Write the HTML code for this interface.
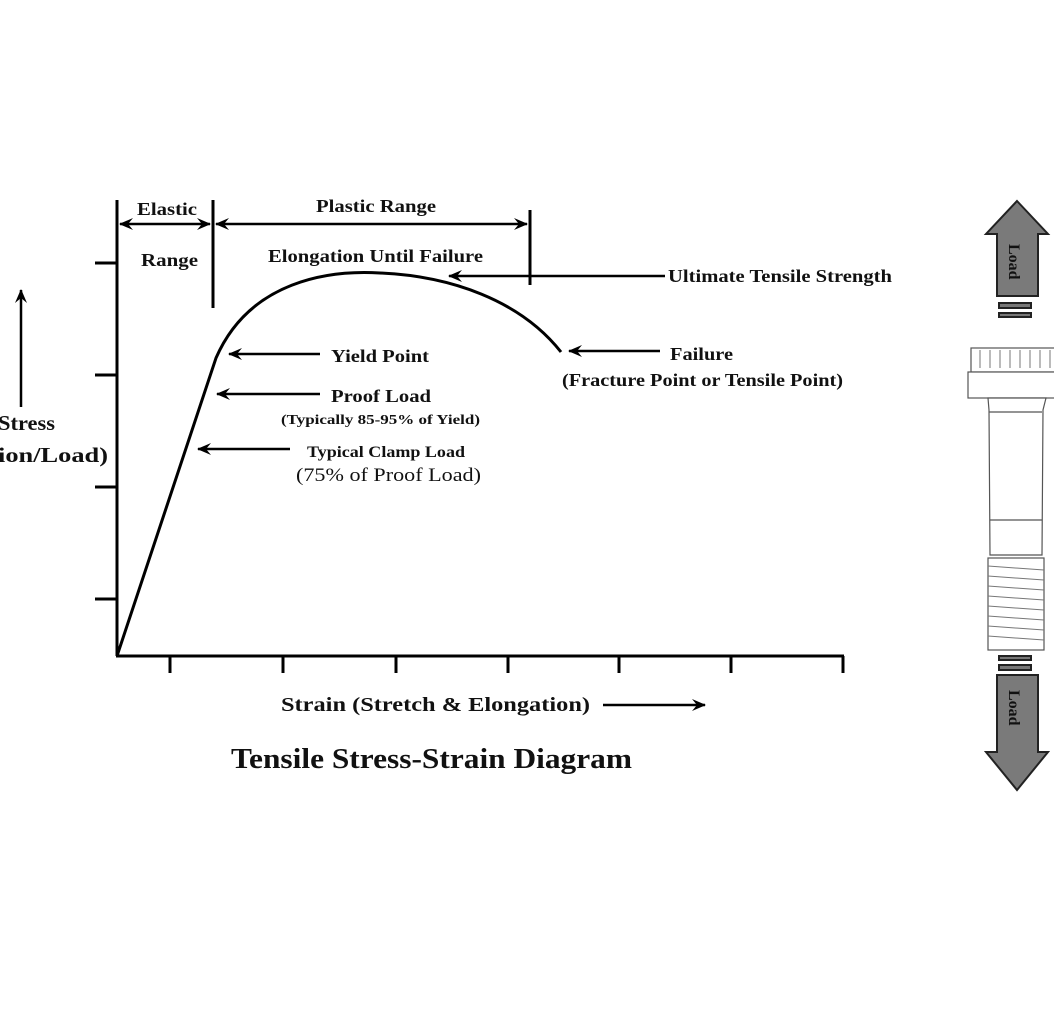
<!DOCTYPE html>
<html><head><style>
body{margin:0;background:#fff;}
svg{display:block;font-family:"Liberation Serif",serif;font-weight:bold;}
</style></head><body>
<svg width="1054" height="1017" viewBox="0 0 1054 1017" xmlns="http://www.w3.org/2000/svg">
<defs>
<marker id="ah" markerWidth="14" markerHeight="12" refX="1" refY="6" orient="auto" markerUnits="userSpaceOnUse">
<path d="M14,0 L0,6 L14,12 L9,6 Z" fill="#000"/></marker>
<marker id="ae" markerWidth="14" markerHeight="12" refX="13" refY="6" orient="auto" markerUnits="userSpaceOnUse">
<path d="M0,0 L14,6 L0,12 L5,6 Z" fill="#000"/></marker>
</defs>
<g stroke="#000" stroke-width="3" fill="none">
<line x1="117" y1="200" x2="117" y2="656"/>
<line x1="116" y1="656" x2="844" y2="656"/>
<line x1="95" y1="263" x2="117" y2="263"/>
<line x1="95" y1="375" x2="117" y2="375"/>
<line x1="95" y1="487" x2="117" y2="487"/>
<line x1="95" y1="599" x2="117" y2="599"/>
<line x1="170" y1="656" x2="170" y2="673"/>
<line x1="283" y1="656" x2="283" y2="673"/>
<line x1="396" y1="656" x2="396" y2="673"/>
<line x1="508" y1="656" x2="508" y2="673"/>
<line x1="619" y1="656" x2="619" y2="673"/>
<line x1="731" y1="656" x2="731" y2="673"/>
<line x1="843" y1="656" x2="843" y2="673"/>
<path d="M117,656 L216,358 C250,280 330,270 380,273 C450,276 520,300 561,352"/>
<line x1="213" y1="200" x2="213" y2="308"/>
<line x1="530" y1="210" x2="530" y2="285"/>
</g>
<g stroke="#000" stroke-width="2.5" fill="none">
<line x1="120" y1="224" x2="210" y2="224" marker-start="url(#ah)" marker-end="url(#ae)"/>
<line x1="216" y1="224" x2="527" y2="224" marker-start="url(#ah)" marker-end="url(#ae)"/>
<line x1="449" y1="276" x2="665" y2="276" marker-start="url(#ah)"/>
<line x1="229" y1="354" x2="320" y2="354" marker-start="url(#ah)"/>
<line x1="217" y1="394" x2="320" y2="394" marker-start="url(#ah)"/>
<line x1="198" y1="449" x2="290" y2="449" marker-start="url(#ah)"/>
<line x1="569" y1="351" x2="660" y2="351" marker-start="url(#ah)"/>
<line x1="21" y1="407" x2="21" y2="290" marker-end="url(#ae)"/>
<line x1="603" y1="705" x2="705" y2="705" marker-end="url(#ae)"/>
</g>
<g fill="#111" font-size="18">
<text x="137" y="215" textLength="60" lengthAdjust="spacingAndGlyphs">Elastic</text>
<text x="141" y="266" textLength="57" lengthAdjust="spacingAndGlyphs">Range</text>
<text x="316" y="212" textLength="120" lengthAdjust="spacingAndGlyphs">Plastic Range</text>
<text x="268" y="262" textLength="215" lengthAdjust="spacingAndGlyphs">Elongation Until Failure</text>
<text x="668" y="282" textLength="224" lengthAdjust="spacingAndGlyphs">Ultimate Tensile Strength</text>
<text x="331" y="362" textLength="98" lengthAdjust="spacingAndGlyphs">Yield Point</text>
<text x="331" y="402" textLength="100" lengthAdjust="spacingAndGlyphs">Proof Load</text>
<text x="281" y="424" font-size="14" textLength="199" lengthAdjust="spacingAndGlyphs">(Typically 85-95% of Yield)</text>
<text x="307" y="457" font-size="16" textLength="158" lengthAdjust="spacingAndGlyphs">Typical Clamp Load</text>
<text x="296" y="481" font-weight="normal" font-size="19" textLength="185" lengthAdjust="spacingAndGlyphs">(75% of Proof Load)</text>
<text x="670" y="360" textLength="63" lengthAdjust="spacingAndGlyphs">Failure</text>
<text x="562" y="386" textLength="281" lengthAdjust="spacingAndGlyphs">(Fracture Point or Tensile Point)</text>
<text x="-2" y="430" font-size="21" textLength="57" lengthAdjust="spacingAndGlyphs">Stress</text>
<text x="-2" y="462" font-size="21" textLength="110" lengthAdjust="spacingAndGlyphs">ion/Load)</text>
<text x="281" y="711" font-size="20" textLength="309" lengthAdjust="spacingAndGlyphs">Strain (Stretch &amp; Elongation)</text>
<text x="231" y="768" font-size="29" textLength="401" lengthAdjust="spacingAndGlyphs">Tensile Stress-Strain Diagram</text>
</g>
<!-- bolt -->
<g stroke="#222" stroke-width="2">
<path d="M1017,201 L1048,234 L1038,234 L1038,296 L997,296 L997,234 L986,234 Z" fill="#7a7a7a"/>
<rect x="999" y="303" width="32" height="5" fill="#777"/>
<rect x="999" y="313" width="32" height="4" fill="#777"/>
<rect x="999" y="656" width="32" height="4" fill="#777"/>
<rect x="999" y="665" width="32" height="5" fill="#777"/>
<path d="M997,675 L1038,675 L1038,752 L1048,752 L1017,790 L986,752 L997,752 Z" fill="#7a7a7a"/>
</g>
<g font-size="16" fill="#111">
<text transform="translate(1009,244) rotate(90)">Load</text>
<text transform="translate(1009,690) rotate(90)">Load</text>
</g>
<g stroke="#555" stroke-width="1.2" fill="#fff">
<rect x="971" y="348" width="85" height="24"/>
<rect x="968" y="372" width="90" height="26"/>
<path d="M988,398 L1046,398 L1043,410 L1042,555 L990,555 L989,410 Z"/>
<line x1="989" y1="412" x2="1042" y2="412"/>
<line x1="990" y1="520" x2="1042" y2="520"/>
<rect x="988" y="558" width="56" height="92"/>
</g>
<g stroke="#777" stroke-width="1">
<line x1="988" y1="566" x2="1044" y2="570"/><line x1="988" y1="576" x2="1044" y2="580"/>
<line x1="988" y1="586" x2="1044" y2="590"/><line x1="988" y1="596" x2="1044" y2="600"/>
<line x1="988" y1="606" x2="1044" y2="610"/><line x1="988" y1="616" x2="1044" y2="620"/>
<line x1="988" y1="626" x2="1044" y2="630"/><line x1="988" y1="636" x2="1044" y2="640"/>
<line x1="980" y1="350" x2="980" y2="368"/><line x1="990" y1="350" x2="990" y2="368"/>
<line x1="1000" y1="350" x2="1000" y2="368"/><line x1="1010" y1="350" x2="1010" y2="368"/>
<line x1="1020" y1="350" x2="1020" y2="368"/><line x1="1030" y1="350" x2="1030" y2="368"/>
<line x1="1040" y1="350" x2="1040" y2="368"/><line x1="1050" y1="350" x2="1050" y2="368"/>
</g>
</svg>
</body></html>
